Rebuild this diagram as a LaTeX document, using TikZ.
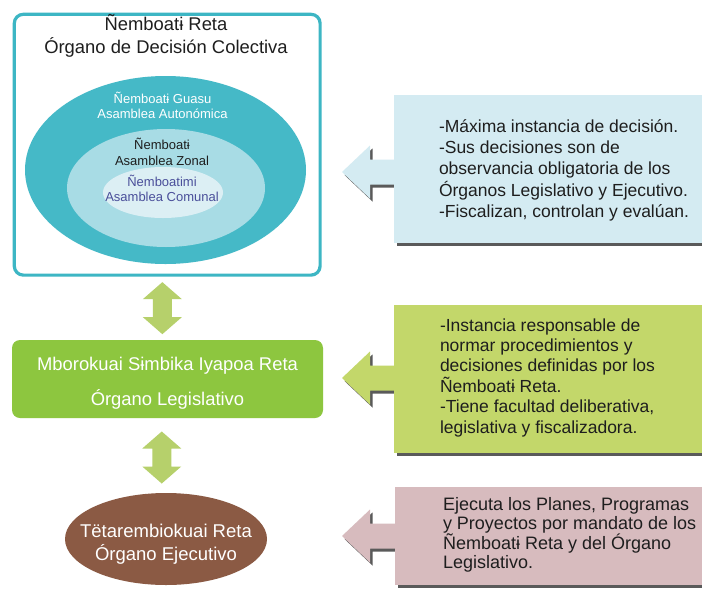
\documentclass[tikz,border=0pt]{standalone}
\usepackage{fontspec}
\setmainfont{Liberation Sans}
\usetikzlibrary{shapes.geometric,shadows,calc}
\definecolor{tealB}{HTML}{3DB6C4}
\definecolor{tealE}{HTML}{45B9C7}
\definecolor{midE}{HTML}{A8DCE5}
\definecolor{innE}{HTML}{DCEFF4}
\definecolor{blueT}{HTML}{4A4F9A}
\definecolor{darkT}{HTML}{1E1E1E}
\definecolor{legG}{HTML}{8DC63F}
\definecolor{arrG}{HTML}{B6D06B}
\definecolor{boxB}{HTML}{D4EBF2}
\definecolor{boxG}{HTML}{C3D76A}
\definecolor{boxP}{HTML}{D7BBBE}
\definecolor{exeB}{HTML}{8B5A44}
\definecolor{shadowC}{HTML}{5A5A5A}
\newcommand\tightlines{\lineskiplimit=-30pt\relax}
\begin{document}
\begin{tikzpicture}[x=1pt,y=-1pt,
  every node/.style={inner sep=0pt,outer sep=0pt},
  ell/.style={ellipse,inner sep=0pt},
  etext/.style={align=center,font=\fontsize{13}{15.5}\selectfont},
  rbox/.style={fill=#1,anchor=north west,minimum width=320pt,
    drop shadow={shadow xshift=2.5pt,shadow yshift=-3pt,fill=shadowC,opacity=1}},
  rtext/.style={anchor=west,align=left,text=darkT},
  larrow/.style={fill=#1,
    drop shadow={shadow xshift=2.5pt,shadow yshift=-3pt,fill=shadowC,opacity=1}},
]
\useasboundingbox (0,0) rectangle (702,590);
\fill[white] (0,0) rectangle (702,590);

% --- top block: decision organ
\node[draw=tealB,line width=3.2pt,rounded corners=9pt,fill=white,
  minimum width=305.8pt,minimum height=260.8pt] (dec) at (167.2,144.7) {};
\node[align=center,text=darkT,font=\fontsize{18.4}{22.5}\selectfont] (dect) at (166,35.6)
  {Ñemboatɨ Reta\\Órgano de Decisión Colectiva};
\node[ell,fill=tealE,minimum width=281pt,minimum height=188pt] (guasu) at (165.5,170) {};
\node[ell,fill=midE,minimum width=198pt,minimum height=118pt] (zonal) at (166,188) {};
\node[ell,fill=innE,minimum width=120pt,minimum height=51pt] (comunal) at (163,192.5) {};
\node[etext,text=white] (guasut) at (162.5,105.3) {Ñemboatɨ Guasu\\Asamblea Autonómica};
\node[etext,text=darkT] (zonalt) at (162,152) {Ñemboatɨ\\Asamblea Zonal};
\node[etext,text=blueT] (comunalt) at (162,188.2) {Ñemboatimi\\Asamblea Comunal};

% --- legislative organ
\node[fill=legG,rounded corners=8pt,minimum width=311pt,minimum height=78pt] (leg) at (167.5,379) {};
\node[align=center,text=white,font=\fontsize{18.4}{35}\selectfont] (legt) at (167.5,383)
  {Mborokuai Sɨmbika Iyapoa Reta\\Órgano Legislativo};

% --- executive organ
\node[ell,fill=exeB,minimum width=202pt,minimum height=92pt] (exe) at (166,539) {};
\node[align=center,text=white,font=\fontsize{18.5}{23}\selectfont] (exet) at (166,544)
  {Tëtarembiokuai Reta\\Órgano Ejecutivo};

% --- vertical double arrows between organs
\coordinate (d1) at ($(dec.south)!0.5!(leg.north)+(-5,0.6)$);
\coordinate (d2) at ($(leg.south)!0.5!(exe.north)+(-5,2)$);
\foreach \c in {d1,d2}{
  \fill[arrG,shift={(\c)}] (0,-26) -- (19.5,-9) -- (9.5,-9) -- (9.5,9) -- (19.5,9) -- (0,26)
    -- (-19.5,9) -- (-9.5,9) -- (-9.5,-9) -- (-19.5,-9) -- cycle;
}

% --- right-hand arrows (drawn first, boxes cover their tails)
\coordinate (t1) at (342,172);
\coordinate (t2) at (342,378);
\coordinate (t3) at (342,536);
\fill[larrow=boxB,shift={(t1)}] (0,0) -- (28,-26.5) -- (28,-12.5) -- (60,-12.5) -- (60,12.5) -- (28,12.5) -- (28,26.5) -- cycle;
\fill[larrow=boxG,shift={(t2)}] (0,0) -- (28,-26.5) -- (28,-12.5) -- (60,-12.5) -- (60,12.5) -- (28,12.5) -- (28,26.5) -- cycle;
\fill[larrow=boxP,shift={(t3)}] (0,0) -- (28,-26.5) -- (28,-12.5) -- (60,-12.5) -- (60,12.5) -- (28,12.5) -- (28,26.5) -- cycle;

% --- right-hand boxes
\node[rbox=boxB,minimum height=148pt] (rb1) at (394,95) {};
\node[rbox=boxG,minimum height=148pt] (rb2) at (394,305) {};
\node[rbox=boxP,minimum height=98pt] (rb3) at (395,487) {};

\node[rtext,font=\fontsize{17.5}{21.25}\selectfont\tightlines] (rb1t) at (439,170.3)
  {-Máxima instancia de decisión.\\-Sus decisiones son de\\observancia obligatoria de los\\Órganos Legislativo y Ejecutivo.\\-Fiscalizan, controlan y evalúan.};
\node[rtext,font=\fontsize{17.5}{20.4}\selectfont\tightlines] (rb2t) at (440,377.5)
  {-Instancia responsable de\\normar procedimientos y\\decisiones definidas por los\\Ñemboatɨ Reta.\\-Tiene facultad deliberativa,\\legislativa y fiscalizadora.};
\node[rtext,font=\fontsize{18}{19.5}\selectfont\tightlines] (rb3t) at (443,535)
  {Ejecuta los Planes, Programas\\y Proyectos por mandato de los\\Ñemboatɨ Reta y del Órgano\\Legislativo.};
\end{tikzpicture}
\end{document}
